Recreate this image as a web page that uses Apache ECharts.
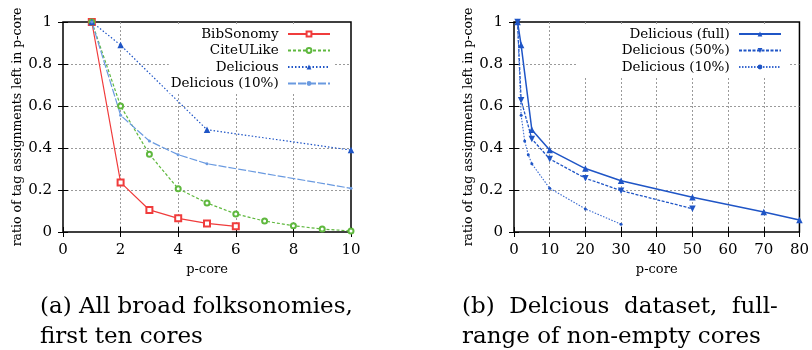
<!DOCTYPE html>
<html>
<head>
<meta charset="utf-8">
<script src="https://cdn.jsdelivr.net/npm/echarts@6/dist/echarts.min.js"></script>
<style>
  html, body { margin: 0; padding: 0; background: #fff; }
  #main { width: 812px; height: 350px; }
</style>
</head>
<body>
<div id="main"></div>
<script>
// p-core values
var coresA = [1, 2, 3, 4, 5, 6, 7, 8, 9, 10];
var bibsonomy = [1.0, 0.236, 0.105, 0.065, 0.041, 0.027];
var citeulike = [1.0, 0.60, 0.37, 0.206, 0.138, 0.086, 0.052, 0.030, 0.014, 0.005];

var coresFull = [1, 2, 5, 10, 20, 30, 50, 70, 80];
var deliciousFull = [1.0, 0.89, 0.487, 0.39, 0.302, 0.244, 0.165, 0.095, 0.057];

var cores50 = [1, 2, 5, 10, 20, 30, 50];
var delicious50 = [1.0, 0.627, 0.443, 0.348, 0.256, 0.197, 0.111];

var cores10 = [1, 2, 3, 4, 5, 10, 20, 30];
var delicious10 = [1.0, 0.556, 0.433, 0.368, 0.325, 0.208, 0.11, 0.037];

var xTicksA = { min: 0, max: 10, interval: 2 };
var xTicksB = { min: 0, max: 80, interval: 10 };
var yTicks = { min: 0, max: 1, interval: 0.2 };

var yTitle = 'ratio of tag assignments left in p-core';
var xTitle = 'p-core';

function pairs(xs, ys, maxX) {
  var out = [];
  for (var i = 0; i < ys.length; i++) {
    if (xs[i] <= maxX) out.push([xs[i], ys[i]]);
  }
  return out;
}

var serif = 'DejaVu Serif';
var red = '#f03c3c', green = '#5fb83e', blue = '#1f55c6', lightBlue = '#6a9ae0';

function mainAxis(gridIdx, pos, ticks, name, gap) {
  return {
    type: 'value', gridIndex: gridIdx, position: pos,
    min: ticks.min, max: ticks.max, interval: ticks.interval,
    name: name, nameLocation: 'middle', nameGap: gap,
    nameTextStyle: { fontFamily: serif, fontSize: pos === 'bottom' ? 13 : 12.5, color: '#000' },
    axisLine: { show: false },
    axisTick: { inside: true, length: 5, lineStyle: { color: '#000' } },
    axisLabel: { fontFamily: serif, fontSize: 15, color: '#000', margin: 11 },
    splitLine: { show: true, showMinLine: false, showMaxLine: false,
      lineStyle: { color: '#9a9a9a', width: 1, type: [2, 2] } }
  };
}
function mirrorAxis(gridIdx, pos, ticks) {
  return {
    type: 'value', gridIndex: gridIdx, position: pos,
    min: ticks.min, max: ticks.max, interval: ticks.interval,
    axisLine: { show: false },
    axisTick: { inside: true, length: 5, lineStyle: { color: '#000' } },
    axisLabel: { show: false },
    splitLine: { show: false }
  };
}

var legendText = { fontFamily: serif, fontSize: 13.5, color: '#000', lineHeight: 16 };

var myChart = echarts.init(document.getElementById('main'));

var option = {
  animation: false,
  backgroundColor: '#fff',
  grid: [
    { left: 63, top: 22, width: 288, height: 210, show: true, borderColor: '#000', borderWidth: 1.5 },
    { left: 514, top: 22, width: 288, height: 210, show: true, borderColor: '#000', borderWidth: 1.5 }
  ],
  xAxis: [
    mainAxis(0, 'bottom', xTicksA, xTitle, 23),
    mirrorAxis(0, 'top', xTicksA),
    mainAxis(1, 'bottom', xTicksB, xTitle, 23),
    mirrorAxis(1, 'top', xTicksB)
  ],
  yAxis: [
    mainAxis(0, 'left', yTicks, yTitle, 35),
    mirrorAxis(0, 'right', yTicks),
    mainAxis(1, 'left', yTicks, yTitle, 33),
    mirrorAxis(1, 'right', yTicks)
  ],
  legend: [
    {
      orient: 'vertical', align: 'right', right: 477, top: 24,
      padding: [2, 4, 2, 2], itemGap: 0.5, itemWidth: 42, itemHeight: 6,
      backgroundColor: '#fff', selectedMode: false,
      textStyle: legendText,
      formatter: function (n) { return n + ' '; },
      data: ['BibSonomy', 'CiteULike', 'Delicious', 'Delicious (10%)']
    },
    {
      orient: 'vertical', align: 'right', right: 24, top: 24,
      padding: [2, 6, 2, 45], itemGap: 0.5, itemWidth: 42, itemHeight: 6,
      backgroundColor: '#fff', selectedMode: false,
      textStyle: legendText,
      formatter: function (n) { return n.replace(/^b:/, '') + ' '; },
      data: ['b:Delicious (full)', 'b:Delicious (50%)', 'b:Delicious (10%)']
    }
  ],
  series: [
    { name: 'BibSonomy', type: 'line', xAxisIndex: 0, yAxisIndex: 0,
      data: pairs(coresA, bibsonomy, 10),
      symbol: 'emptyRect', symbolSize: 6,
      itemStyle: { color: red, borderWidth: 1.2 }, lineStyle: { color: red, width: 1.2 } },
    { name: 'CiteULike', type: 'line', xAxisIndex: 0, yAxisIndex: 0,
      data: pairs(coresA, citeulike, 10),
      symbol: 'emptyCircle', symbolSize: 5,
      itemStyle: { color: green, borderWidth: 1.2 }, lineStyle: { color: green, width: 1.2, type: [3, 2] } },
    { name: 'Delicious', type: 'line', xAxisIndex: 0, yAxisIndex: 0,
      data: pairs(coresFull, deliciousFull, 10),
      symbol: 'triangle', symbolSize: 6.5,
      itemStyle: { color: blue }, lineStyle: { color: blue, width: 1.2, type: [1.5, 2] } },
    { name: 'Delicious (10%)', type: 'line', xAxisIndex: 0, yAxisIndex: 0,
      data: pairs(cores10, delicious10, 10),
      symbol: 'circle', symbolSize: 3,
      itemStyle: { color: lightBlue }, lineStyle: { color: lightBlue, width: 1.2, type: [8, 2] } },

    { name: 'b:Delicious (full)', type: 'line', xAxisIndex: 2, yAxisIndex: 2,
      data: pairs(coresFull, deliciousFull, 80),
      symbol: 'triangle', symbolSize: 6.5,
      itemStyle: { color: blue }, lineStyle: { color: blue, width: 1.5 } },
    { name: 'b:Delicious (50%)', type: 'line', xAxisIndex: 2, yAxisIndex: 2,
      data: pairs(cores50, delicious50, 80),
      symbol: 'triangle', symbolRotate: 180, symbolSize: 6.5,
      itemStyle: { color: blue }, lineStyle: { color: blue, width: 1.3, type: [3, 1.5] } },
    { name: 'b:Delicious (10%)', type: 'line', xAxisIndex: 2, yAxisIndex: 2,
      data: pairs(cores10, delicious10, 80),
      symbol: 'circle', symbolSize: 3,
      itemStyle: { color: blue }, lineStyle: { color: '#3a6ad0', width: 1.1, type: [1.5, 1.5] } }
  ],
  graphic: [
    { type: 'text', left: 40, top: 296, style: { text: '(a) All broad folksonomies,', font: '23px "DejaVu Serif"', fill: '#000' } },
    { type: 'text', left: 40, top: 326, style: { text: 'first ten cores', font: '23px "DejaVu Serif"', fill: '#000' } },
    { type: 'text', left: 462, top: 296, style: { text: '(b)  Delcious  dataset,  full-', font: '23px "DejaVu Serif"', fill: '#000' } },
    { type: 'text', left: 462, top: 326, style: { text: 'range of non-empty cores', font: '23px "DejaVu Serif"', fill: '#000' } }
  ]
};

myChart.setOption(option);
</script>
</body>
</html>
